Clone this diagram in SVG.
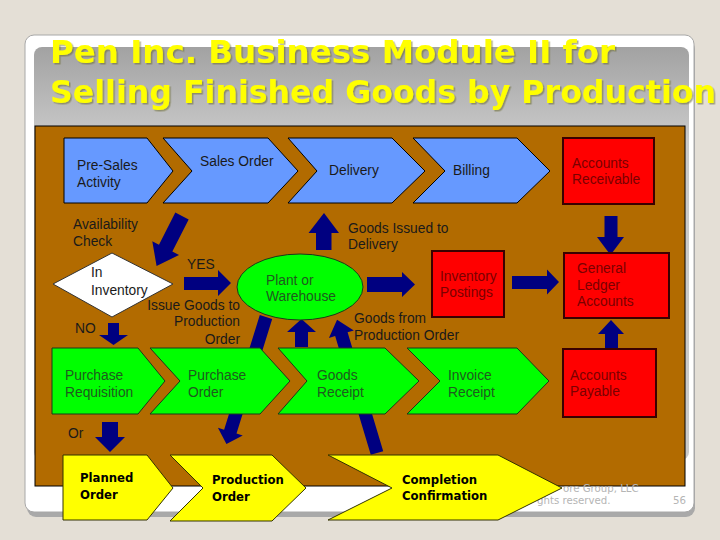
<svg xmlns="http://www.w3.org/2000/svg" width="720" height="540" viewBox="0 0 720 540">
<defs>
<linearGradient id="gray" x1="0" y1="47" x2="0" y2="140" gradientUnits="userSpaceOnUse">
<stop offset="0" stop-color="#a2a2a2"/>
<stop offset="1" stop-color="#cacaca"/>
</linearGradient>
<filter id="tshadow" x="-5%" y="-20%" width="110%" height="140%">
<feDropShadow dx="1.5" dy="1.5" stdDeviation="0.6" flood-color="#6a6a30" flood-opacity="0.55"/>
</filter>
</defs>
<style>
.lbl{font-family:"Liberation Sans",Arial,sans-serif;font-size:13.8px;fill:#1a1a1a}
.red{font-family:"Liberation Sans",Arial,sans-serif;font-size:13.8px;fill:#7a0000}
.grn{font-family:"Liberation Sans",Arial,sans-serif;font-size:13.8px;fill:#1f5a1f}
.yl{font-family:"DejaVu Sans",Verdana,sans-serif;font-size:11.7px;font-weight:bold;fill:#000}
.foot{font-family:"DejaVu Sans",Verdana,sans-serif;font-size:10.2px;fill:#b5b5b5}
.title{font-family:"DejaVu Sans",Verdana,sans-serif;font-size:31.5px;font-weight:bold;fill:#ffff00}
.blue{fill:#6699ff;stroke:#000;stroke-width:1}
.green{fill:#00ff00;stroke:#1a3a1a;stroke-width:1}
.yellow{fill:#ffff00;stroke:#333300;stroke-width:1}
.redbox{fill:#ff0000;stroke:#3a0000;stroke-width:2}
.arr{fill:#000080}
</style>
<rect x="0" y="0" width="720" height="540" fill="#e4dfd6"/>
<rect x="27" y="40" width="668" height="477" rx="9" fill="#a9a9a9"/>
<rect x="25" y="35" width="669" height="477" rx="9" fill="#ffffff" stroke="#a8a8a8" stroke-width="1"/>
<rect x="34" y="47" width="655" height="413" rx="8" fill="url(#gray)"/>
<rect x="35" y="126" width="650" height="360" fill="#b26b00" stroke="#000" stroke-width="1"/>
<g id="title" filter="url(#tshadow)">
<text class="title" x="50" y="63" textLength="565" lengthAdjust="spacingAndGlyphs">Pen Inc. Business Module II for</text>
<text class="title" x="50" y="103" textLength="666" lengthAdjust="spacingAndGlyphs">Selling Finished Goods by Production</text>
</g>
<g id="footer">
<text class="foot" x="563" y="492">ore Group, LLC</text>
<text class="foot" x="537" y="504">ghts reserved.</text>
<text class="foot" x="673" y="504">56</text>
</g>
<g id="connectors">
<polygon class="arr" transform="translate(182,216) rotate(27)" points="-7.5,0 7.5,0 7.5,36 15,36 0,56 -15,36 -7.5,36"/>
<polygon class="arr" points="184,277 218,277 218,270 231,283 218,296 218,290 184,290"/>
<polygon class="arr" points="108,323 119,323 119,335 128,335 113.5,345 99,335 108,335"/>
<polygon class="arr" transform="translate(266,317) rotate(17.3)" points="-6.5,0 6.5,0 6.5,120 13,120 0,133 -13,120 -6.5,120"/>
<polygon class="arr" points="295,347 308,347 308,332 316,332 301.5,319 287,332 295,332"/>
<polygon class="arr" transform="translate(377,453) rotate(-16.7)" points="-6.5,0 6.5,0 6.5,-124 13,-124 0,-139 -13,-124 -6.5,-124"/>
<polygon class="arr" points="316,250 331.5,250 331.5,233 339,233 324,213 308.5,233 316,233"/>
<polygon class="arr" points="367,277 402,277 402,272 415,284.5 402,297 402,292 367,292"/>
<polygon class="arr" points="512,276 547,276 547,269.5 559,282 547,294.5 547,289 512,289"/>
<polygon class="arr" points="604.5,216 617.5,216 617.5,237 624,237 610.5,255 597,237 604.5,237"/>
<polygon class="arr" points="605,349 618,349 618,334 624,334 611,320 598,334 605,334"/>
<polygon class="arr" points="102,422 118,422 118,437 125,437 110,452 95,437 102,437"/>
</g>
<g id="pre-sales">
<polygon class="blue" points="64,138 147,138 173,171 147,203 64,203"/>
<text class="lbl" x="77" y="170">Pre-Sales</text>
<text class="lbl" x="77" y="187">Activity</text>
</g>
<g id="sales-order">
<polygon class="blue" points="163,138 268,138 298,171 268,203 163,203 192,171"/>
<text class="lbl" x="200" y="166">Sales Order</text>
</g>
<g id="delivery">
<polygon class="blue" points="288,138 392,138 425,171 392,203 288,203 317,171"/>
<text class="lbl" x="329" y="175">Delivery</text>
</g>
<g id="billing">
<polygon class="blue" points="413,138 517,138 550,171 517,203 413,203 445,171"/>
<text class="lbl" x="453" y="175">Billing</text>
</g>
<g id="accounts-receivable">
<rect class="redbox" x="563" y="138" width="91" height="66"/>
<text class="red" x="572" y="168">Accounts</text>
<text class="red" x="572" y="184">Receivable</text>
</g>
<g id="availability-check">
<text class="lbl" x="73" y="229">Availability</text>
<text class="lbl" x="73" y="246">Check</text>
</g>
<g id="goods-issued">
<text class="lbl" x="348" y="233">Goods Issued to</text>
<text class="lbl" x="348" y="249">Delivery</text>
</g>
<g id="yes-label">
<text class="lbl" x="187" y="269">YES</text>
</g>
<g id="in-inventory">
<polygon points="53,284 112,253 173,284 112,317" fill="#ffffff" stroke="#333" stroke-width="1"/>
<text class="lbl" x="91" y="277">In</text>
<text class="lbl" x="91" y="295">Inventory</text>
</g>
<g id="plant-warehouse">
<ellipse cx="300" cy="287" rx="63" ry="33" fill="#00ff00" stroke="#1a3a1a" stroke-width="1"/>
<text class="grn" x="266" y="285">Plant or</text>
<text class="grn" x="266" y="301">Warehouse</text>
</g>
<g id="inventory-postings">
<rect class="redbox" x="432" y="251" width="72" height="66"/>
<text class="red" x="440" y="281">Inventory</text>
<text class="red" x="440" y="297">Postings</text>
</g>
<g id="general-ledger">
<rect class="redbox" x="564" y="253" width="105" height="65"/>
<text class="red" x="577" y="273">General</text>
<text class="red" x="577" y="290">Ledger</text>
<text class="red" x="577" y="306">Accounts</text>
</g>
<g id="issue-goods-label">
<text class="lbl" x="240" y="310" text-anchor="end">Issue Goods to</text>
<text class="lbl" x="240" y="326" text-anchor="end">Production</text>
<text class="lbl" x="240" y="344" text-anchor="end">Order</text>
</g>
<g id="goods-from-label">
<text class="lbl" x="354" y="323">Goods from</text>
<text class="lbl" x="354" y="340">Production Order</text>
</g>
<g id="no-label">
<text class="lbl" x="75" y="333">NO</text>
</g>
<g id="purchase-requisition">
<polygon class="green" points="52,348 138,348 165,381 138,414 52,414"/>
<text class="grn" x="65" y="380">Purchase</text>
<text class="grn" x="65" y="397">Requisition</text>
</g>
<g id="purchase-order">
<polygon class="green" points="150,348 260,348 290,381 260,414 150,414 180,381"/>
<text class="grn" x="188" y="380">Purchase</text>
<text class="grn" x="188" y="397">Order</text>
</g>
<g id="goods-receipt">
<polygon class="green" points="278,348 385,348 419,381 385,414 278,414 307,381"/>
<text class="grn" x="317" y="380">Goods</text>
<text class="grn" x="317" y="397">Receipt</text>
</g>
<g id="invoice-receipt">
<polygon class="green" points="407,348 517,348 549,381 517,414 407,414 440,381"/>
<text class="grn" x="448" y="380">Invoice</text>
<text class="grn" x="448" y="397">Receipt</text>
</g>
<g id="accounts-payable">
<rect class="redbox" x="563" y="349" width="93" height="68"/>
<text class="red" x="570" y="380">Accounts</text>
<text class="red" x="570" y="396">Payable</text>
</g>
<g id="or-label">
<text class="lbl" x="68" y="438">Or</text>
</g>
<g id="planned-order">
<polygon class="yellow" points="63,455 147,455 173,488 147,520 63,520"/>
<text class="yl" x="80" y="482">Planned</text>
<text class="yl" x="80" y="499">Order</text>
</g>
<g id="production-order">
<polygon class="yellow" points="170,455 272,455 306,488 272,521 170,521 203,488"/>
<text class="yl" x="212" y="484">Production</text>
<text class="yl" x="212" y="501">Order</text>
</g>
<g id="completion-confirmation">
<polygon class="yellow" points="328,455 498,455 562,488 498,520 328,520 392,488"/>
<text class="yl" x="402" y="484">Completion</text>
<text class="yl" x="402" y="500">Confirmation</text>
</g>
</svg>
